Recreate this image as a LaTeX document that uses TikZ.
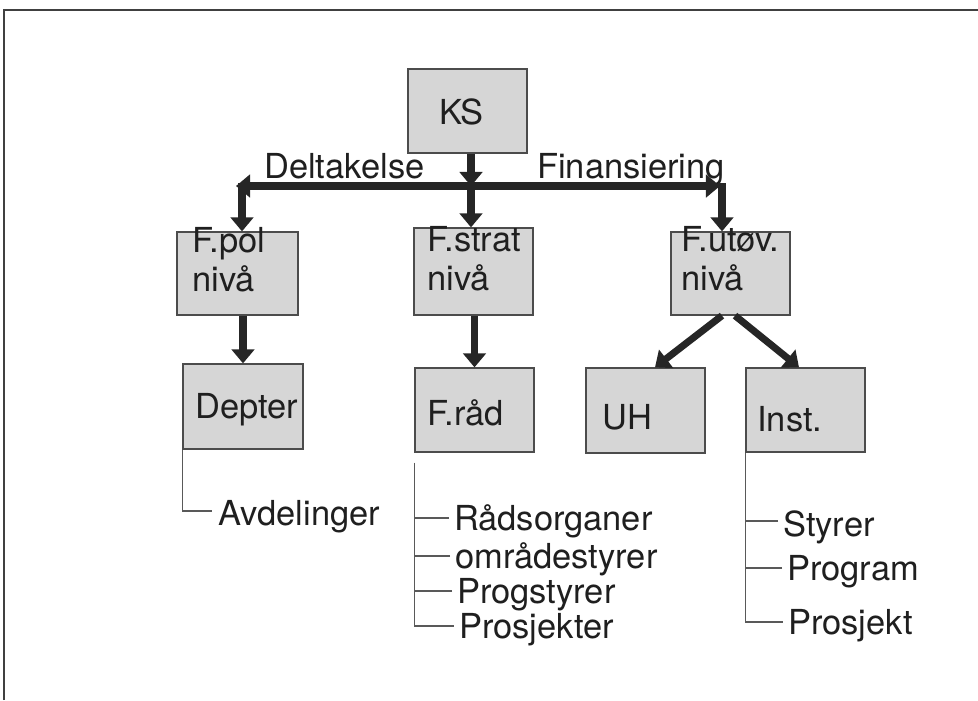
\documentclass[tikz,border=0pt]{standalone}
\usepackage{fontspec}
\setmainfont{TeX Gyre Heros}
\usepackage{tikz}
\usetikzlibrary{arrows.meta}
\newdimen\px \px=0.025cm

\begin{document}
\begin{tikzpicture}[x=0.025cm, y=-0.025cm,
    font=\fontsize{24.5}{27.5}\selectfont, text=black!88,
    box/.style={draw=black!70, line width=0.9pt, fill=black!16, inner sep=0pt},
    lbl/.style={anchor=base west, inner sep=0pt, align=left},
    bar/.style={line width=5pt, draw=black!85, -{Triangle[width=16pt,length=10pt]}},
    tree/.style={line width=0.9pt, draw=black!65}]
    \useasboundingbox (0,0) rectangle (978,700);
    % Frame
    \draw[line width=1.4pt, black!75] (4,700) -- (4,10) -- (978,10);
    % Boxes
    \node[box, minimum width=119\px, minimum height=84\px] (ks) at (467.5,111) {};
    \node[box, minimum width=121\px, minimum height=83\px] (fpol) at (237.5,273.5) {};
    \node[box, minimum width=119\px, minimum height=87\px] (fstrat) at (473.5,271.5) {};
    \node[box, minimum width=119\px, minimum height=83\px] (futov) at (730.5,273.5) {};
    \node[box, minimum width=120\px, minimum height=85\px] (depter) at (243,406.5) {};
    \node[box, minimum width=119\px, minimum height=84\px] (fraad) at (474.5,410) {};
    \node[box, minimum width=119\px, minimum height=85\px] (uh) at (645.5,410.5) {};
    \node[box, minimum width=119\px, minimum height=84\px] (inst) at (805.5,410) {};
    % Box texts (base = last line)
    \node[lbl] (kst) at (439,124) {KS};
    \node[lbl] (fpolt) at (192,291) {F.pol\\nivå};
    \node[lbl] (fstratt) at (427,290) {F.strat\\nivå};
    \node[lbl] (futovt) at (681,290) {F.utøv.\\nivå};
    \node[lbl] (deptert) at (195,418) {Depter};
    \node[lbl] (fraadt) at (427,425) {F.råd};
    \node[lbl] (uht) at (602,429) {UH};
    \node[lbl] (instt) at (757,431) {Inst.};
    % Bar labels
    \node[lbl] (delt) at (264,178) {Deltakelse};
    \node[lbl] (fin) at (537,178) {Finansiering};
    % Arrows
    \coordinate (hub) at (471,186);
    \coordinate (lend) at (236,186);
    \coordinate (lcorner) at (242,183);
    \coordinate (rend) at (720,186);
    \coordinate (rcorner) at (722,183);
    \draw[bar] (ks.south -| hub) -- (hub);
    \draw[bar] (hub) -- (hub |- fstrat.north);
    \draw[bar] (hub) -- (lend);
    \draw[bar] (hub) -- (rend);
    \draw[bar] (lcorner) -- (lcorner |- fpol.north);
    \draw[bar] (rcorner) -- (rcorner |- futov.north);
    \draw[bar] (depter.north |- fpol.south) -- (depter.north);
    \draw[bar] (fraad.north |- fstrat.south) -- (fraad.north);
    \draw[bar] ([xshift=-8.5\px]futov.south) -- ([xshift=9.5\px]uh.north);
    \draw[bar] ([xshift=4.5\px]futov.south) -- ([xshift=-6.5\px]inst.north);
    % Lists under the boxes
    \node[lbl] (avd) at (218,525) {Avdelinger};
    \draw[tree] (depter.south west) |- ([shift={(-6,-14)}]avd.base west);
    \node[lbl] (rad) at (454,530) {Rådsorganer};
    \node[lbl] (omr) at (455,568) {områdestyrer};
    \node[lbl] (progs) at (457,603) {Progstyrer};
    \node[lbl] (prosj) at (459,638) {Prosjekter};
    \coordinate (fraadtop) at ([yshift=-10\px]fraad.south west);
    \draw[tree] (fraadtop) |- ([shift={(-5,-12)}]prosj.base west);
    \foreach \t in {rad,omr,progs} {\draw[tree] ([shift={(-5,-12)}]\t.base west) -- ([yshift=12\px]\t.base -| fraad.west);}
    \node[lbl] (sty) at (783,536) {Styrer};
    \node[lbl] (prg) at (787,580) {Program};
    \node[lbl] (prj) at (788,634) {Prosjekt};
    \draw[tree] (inst.south west) |- ([shift={(-5,-12)}]prj.base west);
    \foreach \t/\d in {sty/15,prg/12} {\draw[tree] ([shift={(-5,-\d)}]\t.base west) -- ([yshift=\d\px]\t.base -| inst.west);}
\end{tikzpicture}
\end{document}
